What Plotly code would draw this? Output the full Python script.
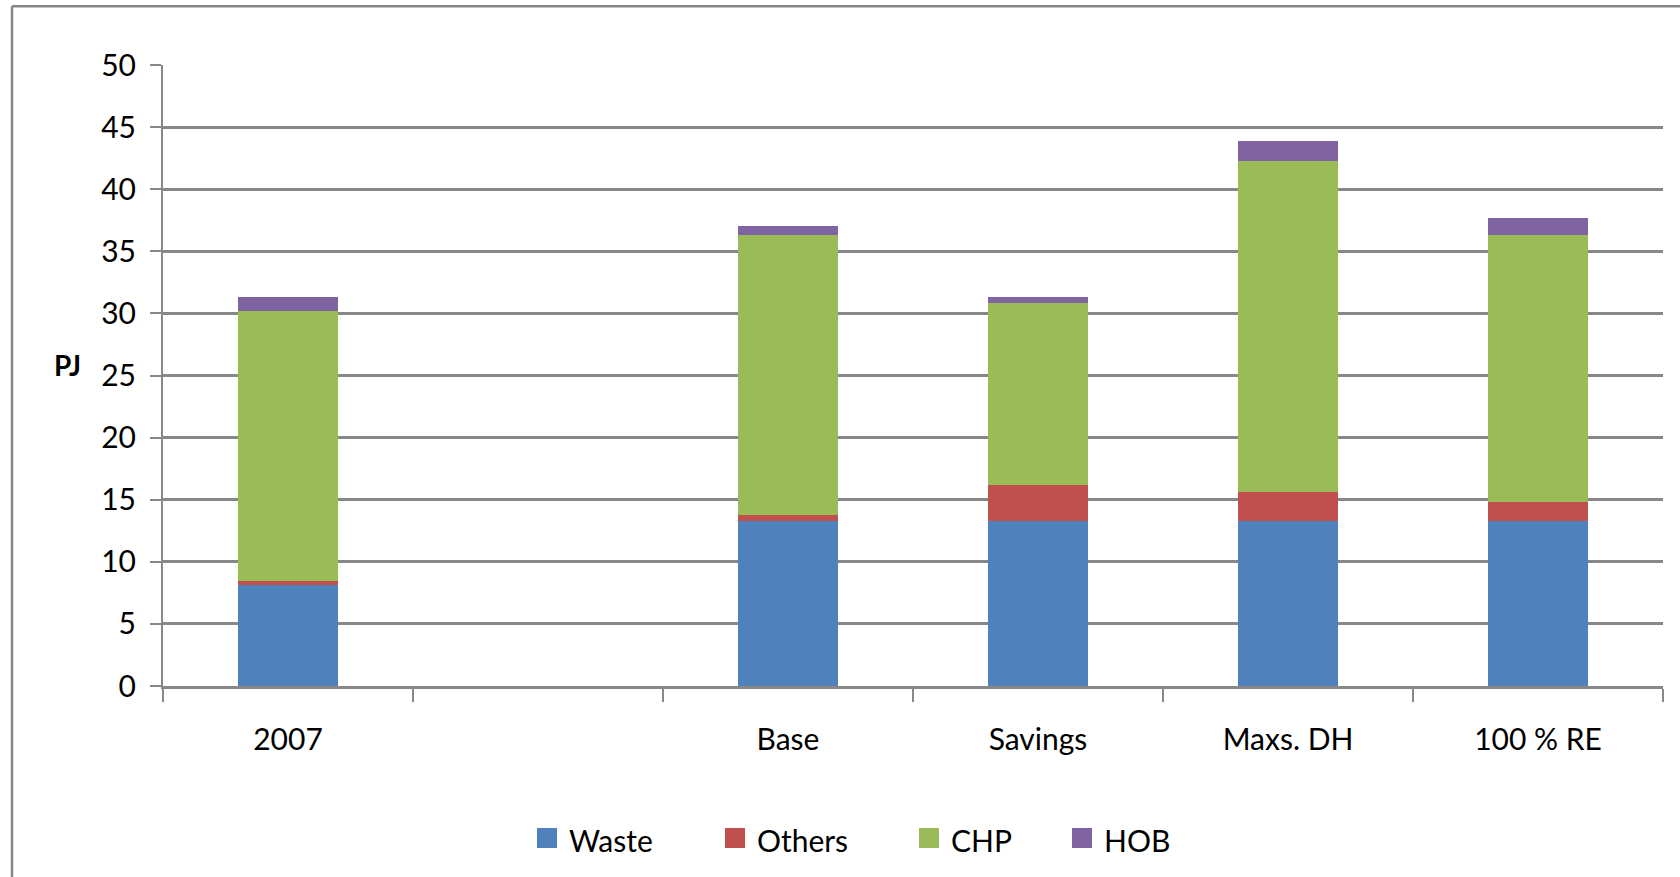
import plotly.graph_objects as go

# District heating supply by source, PJ
categories = ["2007", " ", "Base", "Savings", "Maxs. DH", "100 % RE"]
scenarios = ["2007", "Base", "Savings", "Maxs. DH", "100 % RE"]
waste = [8.1, 13.3, 13.3, 13.3, 13.3]
others = [0.35, 0.45, 2.9, 2.3, 1.55]
chp = [21.75, 22.6, 14.65, 26.7, 21.5]
hob = [1.15, 0.7, 0.5, 1.6, 1.35]

series_names = ["Waste", "Others", "CHP", "HOB"]
series_values = [waste, others, chp, hob]
series_colors = ["#4F81BD", "#C0504D", "#9BBB59", "#8064A2"]

y_ticks = [0, 5, 10, 15, 20, 25, 30, 35, 40, 45, 50]

W, H = 1680, 877
ML, MR, MT, MB = 163, 17, 65, 191
PW, PH = W - ML - MR, H - MT - MB
GRID = "#878787"
FONT = "Lato, Open Sans, sans-serif"
FS = 30


def px_x(x):
    return (x - ML) / PW


def px_y(y):
    return (H - MB - y) / PH


fig = go.Figure()
for name, vals, col in zip(series_names, series_values, series_colors):
    fig.add_trace(go.Bar(
        x=scenarios, y=vals, name=name,
        marker=dict(color=col, line=dict(width=0)),
        showlegend=False,
    ))

shapes = [
    # outer chart frame
    dict(type="line", xref="paper", yref="paper",
         x0=px_x(12), x1=px_x(W + 5), y0=px_y(6.3), y1=px_y(6.3),
         line=dict(color=GRID, width=2.5)),
    dict(type="line", xref="paper", yref="paper",
         x0=px_x(12), x1=px_x(12), y0=px_y(6.3), y1=px_y(H + 5),
         line=dict(color=GRID, width=2.5)),
]
annotations = [
    dict(text="<b>PJ</b>", xref="paper", yref="paper",
         x=px_x(68), y=px_y(365), showarrow=False,
         xanchor="center", yanchor="middle",
         font=dict(family=FONT, size=28, color="#000000")),
]

# legend keys
key_x = [537, 725, 919, 1072]
for kx, name, col in zip(key_x, series_names, series_colors):
    shapes.append(dict(type="rect", xref="paper", yref="paper",
                       x0=px_x(kx), x1=px_x(kx + 20),
                       y0=px_y(828), y1=px_y(848),
                       fillcolor=col, line=dict(width=0)))
    annotations.append(dict(text=name, xref="paper", yref="paper",
                            x=px_x(kx + 30), y=px_y(840), showarrow=False,
                            xanchor="left", yanchor="middle",
                            font=dict(family=FONT, size=FS, color="#000000")))

fig.update_layout(
    barmode="stack",
    bargap=0.6,
    width=W, height=H,
    margin=dict(l=ML, r=MR, t=MT, b=MB, pad=0),
    paper_bgcolor="#FFFFFF",
    plot_bgcolor="#FFFFFF",
    font=dict(family=FONT, size=FS, color="#000000"),
    shapes=shapes,
    annotations=annotations,
    xaxis=dict(
        type="category",
        categoryorder="array",
        categoryarray=categories,
        tickson="boundaries",
        ticks="outside", ticklen=13, tickwidth=2, tickcolor=GRID,
        showline=True, linecolor=GRID, linewidth=2.5,
        showgrid=False,
        ticklabelstandoff=25,
        tickfont=dict(family=FONT, size=FS, color="#000000"),
        range=[-0.5, 5.5],
    ),
    yaxis=dict(
        range=[0, 50],
        tickvals=y_ticks,
        ticks="outside", ticklen=11, tickwidth=2, tickcolor=GRID,
        showline=True, linecolor=GRID, linewidth=2,
        showgrid=True, gridcolor=GRID, gridwidth=2.5,
        zeroline=False,
        ticklabelstandoff=8,
        tickfont=dict(family=FONT, size=FS, color="#000000"),
    ),
)

fig.write_html("out.html")
